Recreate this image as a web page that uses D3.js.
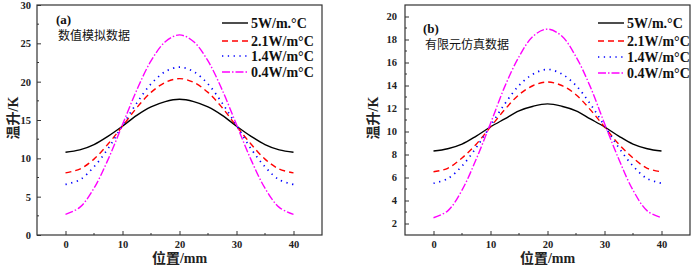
<!DOCTYPE html>
<html>
<head>
<meta charset="utf-8">
<script src="https://cdn.jsdelivr.net/npm/d3@7"></script>
<style>
  body { margin: 0; background: #fff; }
  svg { display: block; }
  .tick-label { font-family: "Liberation Serif", serif; font-weight: bold; font-size: 10.5px; fill: #222; }
  .axis-title { font-family: "Liberation Serif", "Noto Sans CJK SC", serif; font-weight: bold; font-size: 14px; fill: #222; }
  .legend-text { font-family: "Liberation Serif", serif; font-weight: bold; font-size: 14px; fill: #111; }
  .panel-tag { font-family: "Liberation Serif", serif; font-weight: bold; font-size: 13px; fill: #111; }
  .panel-note { font-family: "Noto Sans CJK SC", sans-serif; font-size: 12px; fill: #111; }
</style>
</head>
<body>
<div id="chart"></div>
<script>
// positions along the sample (mm)
const positions = [0, 2.5, 5, 7.5, 10, 12.5, 15, 17.5, 20, 22.5, 25, 27.5, 30, 32.5, 35, 37.5, 40];

const seriesNames = ["5W/m.°C", "2.1W/m°C", "1.4W/m°C", "0.4W/m°C"];

// (a) numerical model data
const aK5 = [10.8, 11.1, 11.8, 12.9, 14.2, 15.6, 16.7, 17.4, 17.7, 17.4, 16.7, 15.6, 14.2, 12.9, 11.8, 11.1, 10.8];
const aK21 = [8.1, 8.6, 9.9, 11.9, 14.2, 16.6, 18.6, 19.9, 20.4, 19.9, 18.6, 16.6, 14.2, 11.9, 9.9, 8.6, 8.1];
const aK14 = [6.6, 7.2, 8.9, 11.3, 14.3, 17.2, 19.7, 21.3, 21.9, 21.3, 19.7, 17.2, 14.3, 11.3, 8.9, 7.2, 6.6];
const aK04 = [2.7, 3.6, 6.1, 9.9, 14.4, 18.9, 22.7, 25.2, 26.1, 25.2, 22.7, 18.9, 14.4, 9.9, 6.1, 3.6, 2.7];

// (b) finite element simulation data
const bK5 = [8.3, 8.5, 8.9, 9.6, 10.4, 11.1, 11.8, 12.2, 12.4, 12.2, 11.8, 11.1, 10.4, 9.6, 8.9, 8.5, 8.3];
const bK21 = [6.5, 6.8, 7.7, 8.9, 10.4, 11.9, 13.2, 14.0, 14.3, 14.0, 13.2, 11.9, 10.4, 8.9, 7.7, 6.8, 6.5];
const bK14 = [5.5, 5.9, 7.0, 8.6, 10.5, 12.4, 14.0, 15.0, 15.4, 15.0, 14.0, 12.4, 10.5, 8.6, 7.0, 5.9, 5.5];
const bK04 = [2.5, 3.1, 4.9, 7.6, 10.7, 13.9, 16.5, 18.3, 18.9, 18.3, 16.5, 13.9, 10.7, 7.6, 4.9, 3.1, 2.5];

const xTicks = [0, 10, 20, 30, 40];
const aYTicks = [0, 5, 10, 15, 20, 25, 30];
const bYTicks = [2, 4, 6, 8, 10, 12, 14, 16, 18, 20];

const lineStyles = [
  { color: "#000000", dash: null, width: 1.4 },
  { color: "#ff0000", dash: "6,4", width: 1.4 },
  { color: "#0000ff", dash: "1.3,4.5", width: 1.7 },
  { color: "#ff00ff", dash: "8,2,1.5,2", width: 1.4 }
];

const W = 694, H = 265;
const svg = d3.select("#chart").append("svg").attr("width", W).attr("height", H);

function drawPanel(opt) {
  const g = svg.append("g");
  const x = d3.scaleLinear().domain([-5, 45]).range([opt.left, opt.right]);
  const y = d3.scaleLinear().domain(opt.yDomain).range([235, 5]);

  // minor ticks (inward)
  const xMinor = d3.range(5, 40, 10);
  const yMinor = opt.yMinor;

  // frame
  g.append("rect")
    .attr("x", opt.left).attr("y", 5)
    .attr("width", opt.right - opt.left).attr("height", 230)
    .attr("fill", "none").attr("stroke", "#333").attr("stroke-width", 1.2);

  // bottom axis
  const xAxis = g.append("g").attr("transform", `translate(0,235)`)
    .call(d3.axisBottom(x).tickValues(xTicks).tickSizeInner(-4).tickSizeOuter(0).tickPadding(6));
  xAxis.select(".domain").remove();
  xAxis.selectAll("text").attr("class", "tick-label").attr("fill", null);
  xAxis.selectAll("line").attr("stroke", "#333");
  g.selectAll(".xminor").data(xMinor).enter().append("line")
    .attr("x1", (d) => x(d)).attr("x2", (d) => x(d))
    .attr("y1", 235).attr("y2", 233).attr("stroke", "#333");

  // left axis
  const yAxis = g.append("g").attr("transform", `translate(${opt.left},0)`)
    .call(d3.axisLeft(y).tickValues(opt.yTicks).tickSizeInner(-4).tickSizeOuter(0).tickPadding(opt.yPad));
  yAxis.select(".domain").remove();
  yAxis.selectAll("text").attr("class", "tick-label").attr("fill", null);
  yAxis.selectAll("line").attr("stroke", "#333");
  g.selectAll(".yminor").data(yMinor).enter().append("line")
    .attr("x1", opt.left).attr("x2", opt.left + 2)
    .attr("y1", (d) => y(d)).attr("y2", (d) => y(d)).attr("stroke", "#333");

  // axis titles
  g.append("text").attr("class", "axis-title")
    .attr("text-anchor", "middle")
    .attr("x", x(20)).attr("y", 263)
    .text("位置/mm");
  g.append("text").attr("class", "axis-title")
    .attr("text-anchor", "middle")
    .attr("transform", `translate(${opt.yTitleX},118) rotate(-90)`)
    .text("温升/K");

  // curves
  const line = d3.line()
    .x((d) => x(d[0]))
    .y((d) => y(d[1]))
    .curve(d3.curveCatmullRom);

  opt.series.forEach((vals, i) => {
    const st = lineStyles[i];
    g.append("path")
      .datum(positions.map((p, j) => [p, vals[j]]))
      .attr("fill", "none")
      .attr("stroke", st.color)
      .attr("stroke-width", st.width)
      .attr("stroke-dasharray", st.dash)
      .attr("d", line);
  });

  // legend
  const lg = g.append("g");
  seriesNames.forEach((name, i) => {
    const st = lineStyles[i];
    const ly = opt.legendY[i];
    lg.append("line")
      .attr("x1", opt.legendX).attr("x2", opt.legendX + 26)
      .attr("y1", ly).attr("y2", ly)
      .attr("stroke", st.color).attr("stroke-width", st.width)
      .attr("stroke-dasharray", st.dash);
    lg.append("text").attr("class", "legend-text")
      .attr("x", opt.legendX + 29).attr("y", ly + 5)
      .text(name);
  });

  // panel tag and note
  g.append("text").attr("class", "panel-tag")
    .attr("x", opt.tagX).attr("y", opt.tagY).text(opt.tag);
  g.append("text").attr("class", "panel-note")
    .attr("x", opt.tagX + 2).attr("y", opt.tagY + 16).text(opt.note);
}

drawPanel({
  left: 37, right: 322,
  yDomain: [0, 30], yTicks: aYTicks, yMinor: d3.range(2.5, 30, 5), yPad: 6,
  yTitleX: 18,
  series: [aK5, aK21, aK14, aK04],
  legendX: 222, legendY: [23, 41, 56, 72],
  tag: "(a)", note: "数值模拟数据", tagX: 56, tagY: 24
});

drawPanel({
  left: 405, right: 690,
  yDomain: [1, 21], yTicks: bYTicks, yMinor: d3.range(3, 21, 2), yPad: 8,
  yTitleX: 378,
  series: [bK5, bK21, bK14, bK04],
  legendX: 598, legendY: [23, 41, 57, 73],
  tag: "(b)", note: "有限元仿真数据", tagX: 423, tagY: 33
});
</script>
</body>
</html>
